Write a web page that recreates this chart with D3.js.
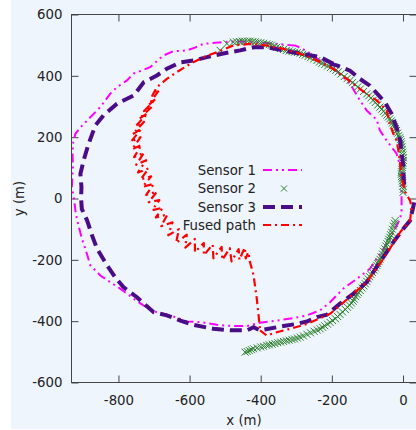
<!DOCTYPE html>
<html>
<head>
<meta charset="utf-8">
<script src="https://d3js.org/d3.v7.min.js"></script>
<style>
  html, body { margin: 0; padding: 0; background: #ffffff; }
  svg { display: block; font-family: "DejaVu Sans", sans-serif; }
</style>
</head>
<body>
<svg id="chart" width="416" height="430"></svg>
<script>
// ---------- data (x, y in metres); null = break in the recorded path ----------
const seriesNames = ["Sensor 1", "Sensor 2", "Sensor 3", "Fused path"];
const xTicks = [-800, -600, -400, -200, 0];
const yTicks = [-600, -400, -200, 0, 200, 400, 600];

const sensor1 = [
  [-300,498],[-360,505],[-420,510],[-470,512],[-509,510],[-562,504],[-585,492],[-608,483],[-646,480],
  [-674,466],[-711,428],[-758,407],[-776,385],[-804,363],[-823,342],[-851,298],[-879,265],[-907,232],
  [-921,211],[-928,178],[-929,140],[-928,102],[-930,60],[-931,37],[-925,0],[-921,-39],[-917,-66],
  [-903,-131],[-893,-164],[-879,-218],[-851,-251],[-823,-273],[-795,-294],[-757,-327],[-729,-349],
  [-692,-371],[-654,-381],[-608,-401],[-570,-403],[-523,-412],[-477,-416],[-439,-416],[-402,-405],
  [-355,-398],[-308,-390],[-270,-381],[-233,-365],[-205,-338],[-168,-294],[-130,-262],[-93,-229],
  [-55,-164],[-37,-131],[-8,-66],[-4,-39],[-4,-28],[-4,48],[-4,91],[-18,146],[-46,189],[-65,222],
  [-74,257],[-102,287],[-121,320],[-149,374],[-190,420],[-233,450],[-270,480],[-300,498]
];

const sensor2 = [
  [-514,483],[-495,505],[-477,510],[-468,511],[-460,512],[-452,513],[-445,513],[-437,513],[-430,513],
  [-422,512],[-415,511],[-407,509],[-400,508],[-392,506],[-383,504],[-376,502],[-370,500],[-362,496],
  [-355,493],[-345,489],[-336,486],[-328,483],[-320,481],[-312,479],[-305,477],[-297,476],[-289,474],
  [-282,470],[-275,467],[-267,463],[-260,459],[-251,455],[-242,450],[-235,445],[-228,441],[-220,437],
  [-212,432],[-204,427],[-196,423],[-189,418],[-182,413],[-174,406],[-165,398],[-157,391],[-149,385],
  [-142,378],[-135,372],[-127,364],[-120,357],[-111,349],[-102,341],[-96,335],[-90,328],[-84,320],
  [-78,313],[-71,305],[-65,298],[-60,291],[-55,284],[-50,278],[-45,272],[-41,266],[-37,260],[-33,253],
  [-30,246],[-27,240],[-24,234],[-21,228],[-18,222],[-15,213],[-12,205],[-9,198],[-7,192],[-5,185],
  [-4,178],[-3,169],[-2,160],[-1,151],[0,142],[1,133],[1,124],[0,116],[-1,108],[-2,101],[-3,95],
  [-4,87],[-4,80],[-4,72],[-3,65],[-2,57],[-1,50],[0,40],[1,30],[0,20],
  null,
  [-22,-72],[-24,-81],[-27,-90],[-30,-100],[-32,-110],[-35,-118],[-37,-126],[-40,-133],[-42,-140],
  [-45,-148],[-48,-155],[-51,-164],[-55,-172],[-58,-181],[-62,-190],[-65,-198],[-68,-205],[-71,-212],
  [-74,-218],[-78,-226],[-82,-233],[-86,-241],[-90,-248],[-94,-255],[-98,-262],[-102,-270],[-106,-278],
  [-110,-285],[-115,-292],[-120,-300],[-125,-307],[-129,-313],[-133,-320],[-137,-328],[-140,-335],
  [-145,-341],[-150,-348],[-156,-355],[-162,-362],[-170,-370],[-177,-378],[-184,-385],[-190,-392],
  [-198,-398],[-205,-404],[-212,-410],[-220,-415],[-226,-420],[-233,-425],[-241,-429],[-250,-433],
  [-260,-438],[-270,-443],[-280,-448],[-289,-452],[-297,-455],[-305,-458],[-312,-460],[-320,-462],
  [-328,-464],[-336,-466],[-344,-468],[-352,-470],[-360,-473],[-368,-475],[-376,-477],[-383,-479],
  [-392,-482],[-400,-484],[-410,-487],[-420,-490],[-426,-493],[-432,-496],[-438,-499],[-444,-501]
];

const sensor3 = [
  [-196,439],[-233,461],[-289,472],[-336,483],[-383,493],[-420,493],[-458,483],[-486,477],[-509,472],
  [-551,461],[-589,450],[-626,444],[-664,423],[-692,401],[-729,379],[-757,336],[-804,309],[-842,271],
  [-865,238],[-884,178],[-898,124],[-907,80],[-904,37],[-905,0],[-903,-34],[-888,-72],[-874,-121],
  [-860,-164],[-832,-218],[-809,-257],[-786,-289],[-748,-322],[-701,-371],[-664,-381],[-626,-398],
  [-589,-412],[-533,-425],[-486,-430],[-439,-430],[-420,-420],[-402,-430],[-336,-416],[-299,-409],
  [-270,-401],[-242,-387],[-214,-379],[-177,-343],[-140,-311],[-102,-273],[-65,-208],[-27,-142],
  [1,-99],[20,-72],[34,-1],[60,20],
  null,
  [3,45],[0,113],[-4,150],[-8,189],[-18,232],[-32,276],[-51,314],[-93,368],[-121,390],[-149,417],
  [-186,434],[-205,439]
];

const fused = [
  [-402,-430],[-383,-447],[-355,-436],[-317,-425],[-270,-409],[-233,-390],[-205,-376],[-177,-349],
  [-140,-311],[-102,-273],[-65,-213],[-37,-164],[-8,-110],[20,-72],[24,-28],[20,-7],[6,21],[-4,70],
  [-8,113],[-13,157],[-18,189],[-27,211],[-37,244],[-46,287],[-74,320],[-102,341],[-140,374],[-196,423],
  [-242,450],[-289,472],[-336,488],[-383,499],[-430,504],[-477,499],[-523,477],[-561,461],[-598,439],
  [-636,412],[-664,390],[-692,363],[-705,335],[-685,355],[-715,305],[-695,325],[-728,285],[-705,300],
  [-742,260],[-718,278],[-752,235],[-728,250],[-760,210],[-735,228],[-765,185],[-738,200],[-762,160],
  [-735,175],[-756,135],[-728,150],[-750,110],[-722,125],[-745,85],[-715,98],[-738,62],[-708,72],
  [-732,38],[-700,48],[-722,12],[-692,22],[-715,-12],[-685,-5],[-705,-38],[-675,-30],[-695,-62],
  [-662,-52],[-680,-90],[-648,-78],[-660,-120],[-630,-100],[-638,-145],[-608,-118],[-612,-160],
  [-585,-132],[-585,-175],[-560,-145],[-560,-185],[-535,-150],[-533,-195],[-510,-158],[-508,-200],
  [-487,-162],[-482,-205],[-462,-165],[-460,-200],[-445,-160],[-442,-195],[-435,-175],[-430,-208],
  [-420,-251],[-411,-327],[-402,-425]
];

// ---------- layout ----------
const svg = d3.select("#chart");
const mLeft = 71.5, mRight = 416.5, mTop = 14.5, mBottom = 382.5;
const xScale = d3.scaleLinear().domain([-932, 38]).range([mLeft, mRight]);
const yScale = d3.scaleLinear().domain([-600, 600]).range([mBottom, mTop]);
const axisColor = "#444";
const fontSize = "13.3px";
const plainFormat = d => String(d);

svg.append("rect").attr("x", 11).attr("y", 0).attr("width", 405).attr("height", 429)
  .attr("fill", "#eef5fd");

svg.append("clipPath").attr("id", "plotclip").append("rect")
  .attr("x", mLeft).attr("y", mTop).attr("width", mRight - mLeft).attr("height", mBottom - mTop);

function styleAxis(g) {
  g.select(".domain").remove();
  g.selectAll(".tick line").attr("stroke", axisColor);
  g.selectAll(".tick text").attr("fill", "#222").style("font-size", fontSize)
    .style("font-family", "DejaVu Sans, sans-serif");
}
svg.append("g").attr("transform", `translate(0,${mBottom})`)
  .call(d3.axisBottom(xScale).tickValues(xTicks).tickSize(-7).tickPadding(13).tickFormat(plainFormat))
  .call(styleAxis);
svg.append("g").attr("transform", `translate(0,${mTop})`)
  .call(d3.axisTop(xScale).tickValues(xTicks).tickSize(-7).tickFormat(""))
  .call(styleAxis);
svg.append("g").attr("transform", `translate(${mLeft},0)`)
  .call(d3.axisLeft(yScale).tickValues(yTicks).tickSize(-7).tickPadding(9).tickFormat(plainFormat))
  .call(styleAxis);
svg.append("g").attr("transform", `translate(${mRight},0)`)
  .call(d3.axisRight(yScale).tickValues(yTicks).tickSize(-7).tickFormat(""))
  .call(styleAxis);

const line = d3.line().defined(d => d !== null).x(d => xScale(d[0])).y(d => yScale(d[1]));
const plot = svg.append("g").attr("clip-path", "url(#plotclip)");

const styles = {
  s1: { stroke: "#ff00ff", width: 2, dash: "9,4,2,4,2,4" },
  s3: { stroke: "#4b0c87", width: 4, dash: "12,6" },
  fu: { stroke: "#ff0000", width: 2.2, dash: "8,4,2,4" }
};

plot.append("path").datum(sensor1).attr("d", line).attr("fill", "none")
  .attr("stroke", styles.s1.stroke).attr("stroke-width", styles.s1.width)
  .attr("stroke-dasharray", styles.s1.dash);

const green = "#2a7f2a";
function cross(g, cx, cy, r) {
  g.append("path").attr("d", `M${cx - r},${cy - r}L${cx + r},${cy + r}M${cx - r},${cy + r}L${cx + r},${cy - r}`)
    .attr("stroke", green).attr("stroke-width", 1).attr("fill", "none");
}
const s2g = plot.append("g");
sensor2.filter(d => d !== null).forEach(d => cross(s2g, xScale(d[0]), yScale(d[1]), 3.5));

plot.append("path").datum(sensor3).attr("d", line).attr("fill", "none")
  .attr("stroke", styles.s3.stroke).attr("stroke-width", styles.s3.width)
  .attr("stroke-dasharray", styles.s3.dash);

plot.append("path").datum(fused).attr("d", line).attr("fill", "none")
  .attr("stroke", styles.fu.stroke).attr("stroke-width", styles.fu.width)
  .attr("stroke-dasharray", styles.fu.dash).attr("stroke-linejoin", "round");

svg.append("rect").attr("x", mLeft).attr("y", mTop).attr("width", mRight - mLeft).attr("height", mBottom - mTop)
  .attr("fill", "none").attr("stroke", axisColor).attr("stroke-width", 1);

svg.append("text").attr("x", (mLeft + mRight) / 2).attr("y", 425).attr("text-anchor", "middle")
  .style("font-size", fontSize).attr("fill", "#222").text("x (m)");
svg.append("text").attr("transform", `translate(24,${(mTop + mBottom) / 2}) rotate(-90)`)
  .attr("text-anchor", "middle").style("font-size", fontSize).attr("fill", "#222").text("y (m)");

const legY = [170, 188.5, 207, 225];
const leg = svg.append("g");
seriesNames.forEach((name, i) => {
  leg.append("text").attr("x", 256).attr("y", legY[i] + 4.7).attr("text-anchor", "end")
    .style("font-size", fontSize).attr("fill", "#222").text(name);
});
const legLine = (i, st) => leg.append("line").attr("x1", 263).attr("x2", 302)
  .attr("y1", legY[i]).attr("y2", legY[i]).attr("stroke", st.stroke)
  .attr("stroke-width", st.width).attr("stroke-dasharray", st.dash);
legLine(0, styles.s1);
cross(leg, 284, legY[1], 3);
legLine(2, styles.s3);
legLine(3, styles.fu);
</script>
</body>
</html>
